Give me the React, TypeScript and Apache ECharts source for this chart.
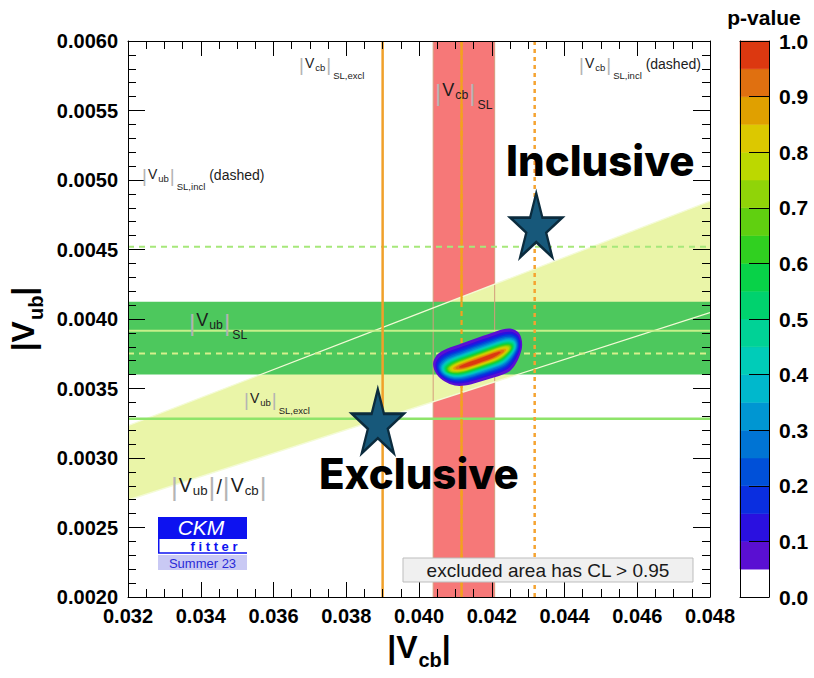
import React, { useEffect, useRef } from "react";
import * as echarts from "echarts";

// ---- axis ranges -------------------------------------------------------
const vcbRange: [number, number] = [0.032, 0.048];
const vubRange: [number, number] = [0.002, 0.006];
const vcbStep = 0.002;
const vubStep = 0.0005;

// ---- |Vcb| constraints -------------------------------------------------
const vcbSLBand = [0.04039, 0.04208];
const vcbSLCentral = [0.04117];
const vcbExcl = [0.039];
const vcbIncl = [0.04318];

// ---- |Vub| constraints -------------------------------------------------
const vubSLBand = [0.0036, 0.004125];
const vubSLSolid = [0.003916];
const vubSLDashed = [0.003752];
const vubExcl = [0.003282];
const vubIncl = [0.00452];

// ---- |Vub|/|Vcb| band (slopes of the two edges) ------------------------
const ratioBand = [0.0843, 0.101];

// ---- global fit: outer (p = 0.05) contour, peak and ridge ---------------
const fitContour: number[][] = [
  [0.040387, 0.003677],
  [0.040481, 0.003738],
  [0.040662, 0.003774],
  [0.041074, 0.003814],
  [0.041533, 0.003858],
  [0.041992, 0.003899],
  [0.04231, 0.003926],
  [0.042541, 0.00393],
  [0.042723, 0.003906],
  [0.042816, 0.003858],
  [0.042832, 0.003798],
  [0.042769, 0.003738],
  [0.042632, 0.003666],
  [0.042448, 0.003617],
  [0.042082, 0.003581],
  [0.041624, 0.003545],
  [0.041258, 0.003521],
  [0.040984, 0.003521],
  [0.040709, 0.00355],
  [0.040481, 0.003605],
];
const fitPeak = [0.041678, 0.003702];
const fitRidge: number[][] = [
  [0.0406, 0.00364],
  [0.04265, 0.003835],
];
const contourLevels = [
  0.05, 0.1, 0.15, 0.2, 0.25, 0.3, 0.35, 0.4, 0.45, 0.5, 0.55, 0.6, 0.65, 0.7,
  0.75, 0.8, 0.85, 0.9, 0.95,
];
const contourAlong = [
  1.0, 0.96, 0.935, 0.91, 0.89, 0.87, 0.85, 0.83, 0.81, 0.79, 0.77, 0.75,
  0.73, 0.71, 0.68, 0.65, 0.61, 0.56, 0.48,
];
const contourAcross = [
  1.0, 0.86, 0.77, 0.7, 0.64, 0.58, 0.53, 0.49, 0.45, 0.41, 0.37, 0.34, 0.3,
  0.27, 0.24, 0.21, 0.17, 0.13, 0.09,
];

// ---- p-value palette ---------------------------------------------------
const pEdges = [
  0, 0.05, 0.1, 0.15, 0.2, 0.25, 0.3, 0.35, 0.4, 0.45, 0.5, 0.55, 0.6, 0.65,
  0.7, 0.75, 0.8, 0.85, 0.9, 0.95, 1.0,
];
const pColors = [
  "#ffffff", "#5a0fd2", "#2a10e0", "#0a2ee0", "#0050d8", "#0074d4",
  "#0096d2", "#00b8cc", "#00ccb8", "#00d296", "#00d26e", "#08d248",
  "#30d020", "#60d010", "#90d408", "#bcd800", "#dcc800", "#e0a000",
  "#e07010", "#dc3810",
];
const pRange: [number, number] = [0, 1];
const pStep = 0.1;

// ---- measurements marked by stars --------------------------------------
const starNames = ["Inclusive", "Exclusive"];
const starVcb = [0.043223, 0.038868];
const starVub = [0.004675, 0.003264];

// ------------------------------------------------------------------------
const FONT = '"Liberation Sans", Arial, Helvetica, sans-serif';
const STAR_PATH =
  "path://M50 0 L61.23 34.55 L97.55 34.55 L68.17 55.9 L79.39 90.45 L50 69.1 L20.61 90.45 L31.83 55.9 L2.45 34.55 L38.77 34.55 Z";
const starLabelOffsets = [
  [64, -65],
  [41, 52],
];

const colorForP = (p: number) => {
  for (let i = 0; i < pColors.length; i++) {
    if (p >= pEdges[i] - 1e-9 && p < pEdges[i + 1] - 1e-9) return pColors[i];
  }
  return pColors[pColors.length - 1];
};

const vLines = (values: number[], stroke: string, lineWidth: number, dash: number[] | null, z: number) => ({
  type: "custom",
  xAxisIndex: 0,
  yAxisIndex: 0,
  z,
  silent: true,
  clip: true,
  data: values.map((v) => [v, vubRange[0]]),
  renderItem: (params: any, api: any) => {
    const cs = params.coordSys;
    const x = api.coord([api.value(0), vubRange[0]])[0];
    const style: any = { stroke, lineWidth };
    if (dash) style.lineDash = dash;
    return { type: "line", shape: { x1: x, y1: cs.y, x2: x, y2: cs.y + cs.height }, style };
  },
});

const hLines = (values: number[], stroke: string, lineWidth: number, dash: number[] | null, z: number) => ({
  type: "custom",
  xAxisIndex: 0,
  yAxisIndex: 0,
  z,
  silent: true,
  clip: true,
  data: values.map((v) => [vcbRange[0], v]),
  renderItem: (params: any, api: any) => {
    const cs = params.coordSys;
    const y = api.coord([vcbRange[0], api.value(1)])[1];
    const style: any = { stroke, lineWidth };
    if (dash) style.lineDash = dash;
    return { type: "line", shape: { x1: cs.x, y1: y, x2: cs.x + cs.width, y2: y }, style };
  },
});

const annoRich = (F: number) => {
  const base = { fontFamily: FONT, fill: "#1c1c1c", verticalAlign: "top" };
  return {
    bar: { ...base, fontSize: F * 1.35, lineHeight: F * 1.35, fill: "#b4b4b4", padding: [0, 1, 0, 1] },
    v: { ...base, fontSize: F, lineHeight: F, padding: [F * 0.05, 0, 0, 0] },
    s1: { ...base, fontSize: F * 0.68, lineHeight: F * 0.68, padding: [F * 0.5, 0, 0, 1] },
    s2: { ...base, fontSize: F * 0.68, lineHeight: F * 0.68, padding: [F * 1.08, 0, 0, 1] },
    t: { ...base, fontSize: F, lineHeight: F, padding: [F * 0.15, 0, 0, 0] },
  };
};

const annotation = (x: number, y: number, F: number, text: string) => ({
  type: "text",
  x,
  y,
  z: 100,
  silent: true,
  style: { text, rich: annoRich(F), align: "left", verticalAlign: "top", fill: "#1c1c1c", fontFamily: FONT },
});

const nameRich = {
  b: { fontFamily: FONT, fontWeight: "bold", fontSize: 32, lineHeight: 34, verticalAlign: "top", color: "#000" },
  s: { fontFamily: FONT, fontWeight: "bold", fontSize: 20, lineHeight: 20, verticalAlign: "top", color: "#000", padding: [19, 0, 0, 1] },
};

const tickLabel = { fontFamily: FONT, fontWeight: "bold", fontSize: 20, color: "#000" };
const blackLine = { color: "#000", width: 1 };

function buildOption(): any {
  const grids = [
    { left: 128, top: 41, width: 582, height: 556, show: false, outerBoundsMode: "none" },
    { left: 740, top: 41, width: 29, height: 556, show: false, outerBoundsMode: "none" },
  ];

  const mainX = (position: string, labels: boolean) => ({
    type: "value",
    gridIndex: 0,
    position,
    z: 20,
    min: vcbRange[0],
    max: vcbRange[1],
    interval: vcbStep,
    axisLine: { show: true, onZero: false, lineStyle: blackLine },
    axisTick: { show: true, inside: true, length: 15, lineStyle: blackLine },
    minorTick: { show: true, splitNumber: 4, length: 8, lineStyle: blackLine },
    splitLine: { show: false },
    minorSplitLine: { show: false },
    axisLabel: labels
      ? { ...tickLabel, margin: 9, showMinLabel: true, showMaxLabel: true, formatter: (v: number) => v.toFixed(3) }
      : { show: false },
    ...(labels
      ? { name: "{b||V}{s|cb}{b||}", nameLocation: "middle", nameGap: 32, nameTextStyle: { rich: nameRich } }
      : {}),
  });

  const mainY = (position: string, labels: boolean) => ({
    type: "value",
    gridIndex: 0,
    position,
    z: 20,
    min: vubRange[0],
    max: vubRange[1],
    interval: vubStep,
    axisLine: { show: true, onZero: false, lineStyle: blackLine },
    axisTick: { show: true, inside: true, length: 17, lineStyle: blackLine },
    minorTick: { show: true, splitNumber: 5, length: 8, lineStyle: blackLine },
    splitLine: { show: false },
    minorSplitLine: { show: false },
    axisLabel: labels
      ? { ...tickLabel, margin: 10, showMinLabel: true, showMaxLabel: true, formatter: (v: number) => v.toFixed(4) }
      : { show: false },
    ...(labels
      ? { name: "{b||V}{s|ub}{b||}", nameLocation: "middle", nameGap: 80, nameTextStyle: { rich: nameRich } }
      : {}),
  });

  const barX = (position: string) => ({
    type: "value",
    gridIndex: 1,
    position,
    z: 20,
    min: 0,
    max: 1,
    axisLine: { show: true, onZero: false, lineStyle: blackLine },
    axisTick: { show: false },
    splitLine: { show: false },
    axisLabel: { show: false },
  });

  const barY = (position: string, labels: boolean) => ({
    type: "value",
    gridIndex: 1,
    position,
    z: 20,
    min: pRange[0],
    max: pRange[1],
    interval: pStep,
    axisLine: { show: true, onZero: false, lineStyle: blackLine },
    axisTick: labels ? { show: true, inside: true, length: 20, lineStyle: blackLine } : { show: false },
    splitLine: { show: false },
    axisLabel: labels
      ? { ...tickLabel, fontSize: 21, margin: 10, showMinLabel: true, showMaxLabel: true, formatter: (v: number) => v.toFixed(1) }
      : { show: false },
  });

  const series: any[] = [
    // |Vcb| SL band
    {
      type: "custom",
      xAxisIndex: 0,
      yAxisIndex: 0,
      z: 1,
      silent: true,
      clip: true,
      data: [[vcbSLBand[0], vcbSLBand[1]]],
      renderItem: (params: any, api: any) => {
        const cs = params.coordSys;
        const x1 = api.coord([api.value(0), vubRange[0]])[0];
        const x2 = api.coord([api.value(1), vubRange[0]])[0];
        return { type: "rect", shape: { x: x1, y: cs.y, width: x2 - x1, height: cs.height }, style: { fill: "#f67878" } };
      },
    },
    // |Vub|/|Vcb| wedge
    {
      type: "custom",
      xAxisIndex: 0,
      yAxisIndex: 0,
      z: 2,
      silent: true,
      clip: true,
      data: [[ratioBand[0], ratioBand[1]]],
      renderItem: (params: any, api: any) => {
        const rLo = api.value(0);
        const rHi = api.value(1);
        const [a, b] = vcbRange;
        const pts = [
          api.coord([a, rLo * a]),
          api.coord([b, rLo * b]),
          api.coord([b, rHi * b]),
          api.coord([a, rHi * a]),
        ];
        return { type: "polygon", shape: { points: pts }, style: { fill: "#eaf5a8" } };
      },
    },
    vLines(vcbSLCentral, "#f3a21e", 2.2, null, 2.5),
    // |Vub| SL band
    {
      type: "custom",
      xAxisIndex: 0,
      yAxisIndex: 0,
      z: 3,
      silent: true,
      clip: true,
      data: [[vcbRange[0], vubSLBand[0], vubSLBand[1]]],
      renderItem: (params: any, api: any) => {
        const cs = params.coordSys;
        const y1 = api.coord([vcbRange[0], api.value(2)])[1];
        const y2 = api.coord([vcbRange[0], api.value(1)])[1];
        return { type: "rect", shape: { x: cs.x, y: y1, width: cs.width, height: y2 - y1 }, style: { fill: "#4dc85d" } };
      },
    },
    // edges of the |Vcb| SL band
    vLines(vcbSLBand, "#d49c7c", 1, null, 4),
    // edges of the ratio wedge
    {
      type: "custom",
      xAxisIndex: 0,
      yAxisIndex: 0,
      z: 4,
      silent: true,
      clip: true,
      data: ratioBand.map((r) => [r]),
      renderItem: (params: any, api: any) => {
        const r = api.value(0);
        const [a, b] = vcbRange;
        const p1 = api.coord([a, r * a]);
        const p2 = api.coord([b, r * b]);
        return {
          type: "line",
          shape: { x1: p1[0], y1: p1[1], x2: p2[0], y2: p2[1] },
          style: { stroke: "#f4fbd6", lineWidth: 1.3 },
        };
      },
    },
    hLines(vubSLSolid, "#c6f08a", 2, null, 5),
    hLines(vubSLDashed, "#d6f08c", 2, [6, 5], 5),
    hLines(vubExcl, "#8ee46a", 2.4, null, 5),
    hLines(vubIncl, "#a6e87a", 2, [6, 5], 5),
    vLines(vcbSLCentral, "#f3a21e", 2.2, [5, 4], 5),
    vLines(vcbExcl, "#f0a02a", 2.5, null, 5),
    vLines(vcbIncl, "#f5a330", 2.5, [4, 4], 5),
    // global fit p-value contours
    {
      type: "custom",
      xAxisIndex: 0,
      yAxisIndex: 0,
      z: 7,
      silent: true,
      clip: true,
      data: contourLevels.map((lv, i) => [fitPeak[0], fitPeak[1], lv, contourAlong[i], contourAcross[i]]),
      renderItem: (params: any, api: any) => {
        const c = api.coord([api.value(0), api.value(1)]);
        const r0 = api.coord(fitRidge[0]);
        const r1 = api.coord(fitRidge[1]);
        let ux = r1[0] - r0[0];
        let uy = r1[1] - r0[1];
        const len = Math.hypot(ux, uy);
        ux /= len;
        uy /= len;
        const nx = -uy;
        const ny = ux;
        const sa = api.value(3);
        const sc = api.value(4);
        const pts = fitContour.map((p) => {
          const q = api.coord(p);
          const dx = q[0] - c[0];
          const dy = q[1] - c[1];
          const al = dx * ux + dy * uy;
          const ac = dx * nx + dy * ny;
          return [c[0] + sa * al * ux + sc * ac * nx, c[1] + sa * al * uy + sc * ac * ny];
        });
        return { type: "polygon", shape: { points: pts, smooth: 0.35 }, style: { fill: colorForP(api.value(2)) } };
      },
    },
    // stars
    {
      type: "scatter",
      xAxisIndex: 0,
      yAxisIndex: 0,
      z: 10,
      silent: true,
      symbol: STAR_PATH,
      symbolSize: [52, 64],
      itemStyle: { color: "#17587a", borderColor: "#0b2b3d", borderWidth: 2.5, opacity: 1 },
      label: {
        show: true,
        position: "inside",
        formatter: "{b}",
        fontFamily: "Inter, 'Noto Sans', sans-serif",
        fontWeight: 800,
        fontSize: 42,
        color: "#000",
      },
      data: starNames.map((n, i) => ({
        name: n,
        value: [starVcb[i], starVub[i]],
        label: { offset: starLabelOffsets[i] },
      })),
    },
    // p-value colour scale
    {
      type: "custom",
      xAxisIndex: 2,
      yAxisIndex: 2,
      z: 2,
      silent: true,
      data: pColors.map((_, i) => [0.5, pEdges[i], pEdges[i + 1], i]),
      renderItem: (params: any, api: any) => {
        const lo = api.value(1);
        const hi = api.value(2);
        const p1 = api.coord([0, hi]);
        const p2 = api.coord([1, lo]);
        return {
          type: "rect",
          shape: { x: p1[0], y: p1[1], width: p2[0] - p1[0], height: p2[1] - p1[1] },
          style: { fill: pColors[api.value(3)], stroke: pColors[api.value(3)], lineWidth: 0.5 },
        };
      },
    },
  ];

  const graphic: any[] = [
    annotation(298, 55, 14, "{bar||}{v|V}{s1|cb}{bar||}{s2|SL,excl}"),
    annotation(141, 166, 14, "{bar||}{v|V}{s1|ub}{bar||}{s2|SL,incl}{t| (dashed)}"),
    annotation(578, 55, 14, "{bar||}{v|V}{s1|cb}{bar||}{s2|SL,incl}{t| (dashed)}"),
    annotation(434, 80, 18, "{bar||}{v|V}{s1|cb}{bar||}{s2|SL}"),
    annotation(188, 310, 18, "{bar||}{v|V}{s1|ub}{bar||}{s2|SL}"),
    annotation(243, 390, 14, "{bar||}{v|V}{s1|ub}{bar||}{s2|SL,excl}"),
    annotation(170, 474, 19.5, "{bar||}{v|V}{s1|ub}{bar||}{t|/}{bar||}{v|V}{s1|cb}{bar||}"),
    // colour scale title
    {
      type: "text",
      x: 764,
      y: 17,
      z: 100,
      silent: true,
      style: { text: "p-value", fontFamily: FONT, fontWeight: "bold", fontSize: 21, fill: "#000", align: "center", verticalAlign: "middle" },
    },
    // CL note
    {
      type: "group",
      x: 403,
      y: 558,
      z: 100,
      silent: true,
      children: [
        { type: "rect", z: 100, shape: { x: 0, y: 0, width: 290, height: 24 }, style: { fill: "#f0f0f0", stroke: "#bdbdbd", lineWidth: 1 } },
        {
          type: "text",
          z: 101,
          x: 145,
          y: 12.5,
          style: { text: "excluded area has CL > 0.95", fontFamily: FONT, fontSize: 19, fill: "#1a1a1a", align: "center", verticalAlign: "middle" },
        },
      ],
    },
    // CKMfitter logo
    {
      type: "group",
      x: 158,
      y: 517,
      z: 100,
      silent: true,
      children: [
        { type: "rect", z: 100, shape: { x: 0, y: 0, width: 89, height: 22 }, style: { fill: "#0d12f0" } },
        {
          type: "text",
          z: 101,
          x: 43,
          y: 10.5,
          style: { text: "CKM", fontFamily: FONT, fontStyle: "italic", fontSize: 21, fill: "#ffffff", align: "center", verticalAlign: "middle" },
        },
        { type: "rect", z: 100, shape: { x: 0, y: 22, width: 89, height: 14 }, style: { fill: "#ffffff" } },
        { type: "line", z: 101, shape: { x1: 0.75, y1: 22, x2: 0.75, y2: 36 }, style: { stroke: "#0d12f0", lineWidth: 1.5 } },
        { type: "line", z: 101, shape: { x1: 0, y1: 36, x2: 89, y2: 36 }, style: { stroke: "#0d12f0", lineWidth: 1.5 } },
        {
          type: "text",
          z: 101,
          x: 56,
          y: 29.5,
          style: { text: "f i t t e r", fontFamily: FONT, fontWeight: "bold", fontSize: 13, fill: "#0d12f0", align: "center", verticalAlign: "middle" },
        },
        { type: "rect", z: 100, shape: { x: 0, y: 38, width: 89, height: 15 }, style: { fill: "#c9c9f4" } },
        {
          type: "text",
          z: 101,
          x: 44.5,
          y: 46,
          style: { text: "Summer 23", fontFamily: FONT, fontSize: 13, fill: "#2a2ad8", align: "center", verticalAlign: "middle" },
        },
      ],
    },
  ];

  return {
    animation: false,
    backgroundColor: "#ffffff",
    textStyle: { fontFamily: FONT },
    grid: grids,
    xAxis: [mainX("bottom", true), mainX("top", false), barX("bottom"), barX("top")],
    yAxis: [mainY("left", true), mainY("right", false), barY("right", true), barY("left", false)],
    series,
    graphic,
  };
}

export default function App() {
  const ref = useRef<HTMLDivElement>(null);
  useEffect(() => {
    if (!ref.current) return;
    const chart = echarts.init(ref.current, undefined, { renderer: "svg" });
    chart.setOption(buildOption());
    return () => {
      chart.dispose();
    };
  }, []);
  return (
    <div
      ref={ref}
      style={{ position: "absolute", left: 0, top: 0, width: 814, height: 678, background: "#ffffff" }}
    />
  );
}
